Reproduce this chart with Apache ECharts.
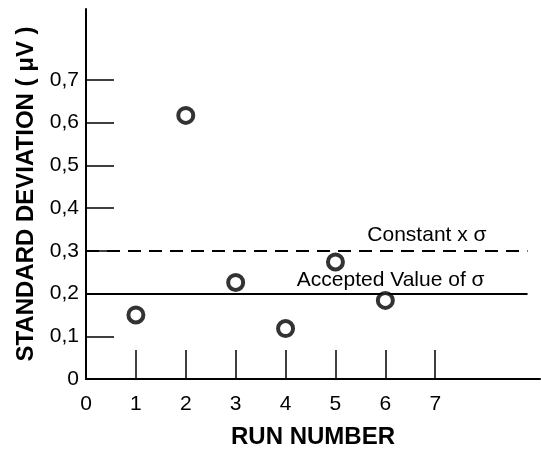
<!DOCTYPE html>
<html><head><meta charset="utf-8">
<script src="https://cdn.jsdelivr.net/npm/echarts@6/dist/echarts.min.js"></script>
<style>html,body{margin:0;padding:0;background:#fff}#c{width:541px;height:450px}</style>
</head><body><div id="c"></div>
<script>
const runNumbers = [1, 2, 3, 4, 5, 6];
const stdDev = [0.15, 0.617, 0.226, 0.118, 0.274, 0.184];
const xTickValues = [1, 2, 3, 4, 5, 6, 7];
const xLabelValues = [0, 1, 2, 3, 4, 5, 6, 7];
const yTickValues = [0.1, 0.2, 0.3, 0.4, 0.5, 0.6, 0.7];
const yLabelValues = [0, 0.1, 0.2, 0.3, 0.4, 0.5, 0.6, 0.7];
const constantSigma = 0.3;
const acceptedSigma = 0.2;
const refLineEnd = 8.85;
const xTitle = 'RUN NUMBER';
const yTitle = 'STANDARD DEVIATION ( μV )';
const constantLabel = 'Constant x σ';
const acceptedLabel = 'Accepted Value of σ';

const font = 'Liberation Sans, Arial, sans-serif';
const chart = echarts.init(document.getElementById('c'));
chart.setOption({
  animation: false,
  grid: {left: 86, top: 9, width: 454, height: 370, containLabel: false, outerBoundsMode: 'none'},
  xAxis: {
    type: 'value', min: 0, max: 9.1,
    name: xTitle, nameLocation: 'middle', nameGap: 46,
    nameTextStyle: {fontFamily: font, fontWeight: 'bold', fontSize: 24, color: '#000'},
    axisLine: {show: true, lineStyle: {color: '#000', width: 2}},
    axisTick: {show: true, inside: true, length: 29, customValues: xTickValues, lineStyle: {color: '#000', width: 1.5}},
    axisLabel: {customValues: xLabelValues, margin: 15, fontFamily: font, fontSize: 21, color: '#000'},
    splitLine: {show: false}
  },
  yAxis: {
    type: 'value', min: 0, max: 0.866,
    name: yTitle, nameLocation: 'middle', nameGap: 48, nameRotate: 90,
    nameTextStyle: {fontFamily: font, fontWeight: 'bold', fontSize: 24, color: '#000'},
    axisLine: {show: true, lineStyle: {color: '#000', width: 2}},
    axisTick: {show: true, inside: true, length: 28, customValues: yTickValues, lineStyle: {color: '#000', width: 1.5}},
    axisLabel: {customValues: yLabelValues, margin: 7, fontFamily: font, fontSize: 21, color: '#000',
      formatter: v => String(Math.round(v * 10) / 10).replace('.', ',')},
    splitLine: {show: false}
  },
  series: [{
    type: 'scatter',
    data: runNumbers.map((r, i) => [r, stdDev[i]]),
    symbol: 'circle', symbolSize: 15,
    itemStyle: {color: '#fff', borderColor: '#000', borderWidth: 4},
    z: 5,
    markLine: {
      silent: true, symbol: 'none', animation: false,
      data: [
        [{coord: [0, constantSigma], lineStyle: {type: [13, 8], color: '#000', width: 2},
          label: {show: true, formatter: constantLabel, position: 'insideEndTop', distance: 5, padding: [0, 36, 0, 0], fontFamily: font, fontSize: 21, color: '#000'}},
         {coord: [refLineEnd, constantSigma]}],
        [{coord: [0, acceptedSigma], lineStyle: {type: 'solid', color: '#000', width: 2},
          label: {show: true, formatter: acceptedLabel, position: 'insideEndTop', distance: 3, padding: [0, 40, 0, 0], fontFamily: font, fontSize: 21, color: '#000'}},
         {coord: [refLineEnd, acceptedSigma]}]
      ]
    }
  }]
});
</script></body></html>
